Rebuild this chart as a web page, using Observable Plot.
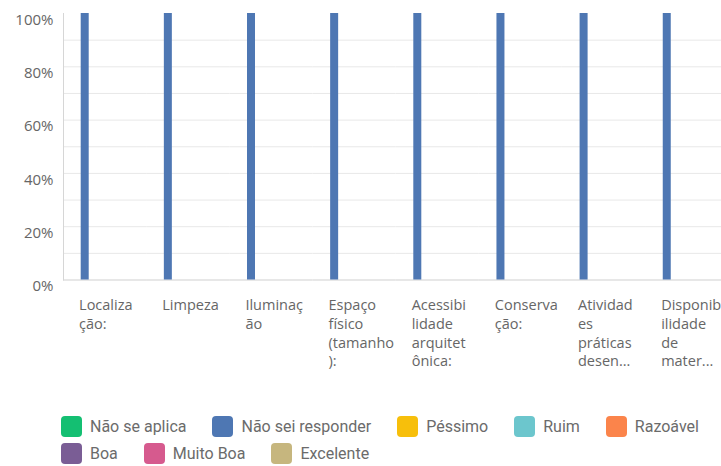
<!DOCTYPE html>
<html>
<head>
<meta charset="utf-8">
<script src="https://cdn.jsdelivr.net/npm/d3@7"></script>
<script src="https://cdn.jsdelivr.net/npm/@observablehq/plot@0.6"></script>
<style>
  html, body { margin: 0; padding: 0; background: #fff; overflow: hidden; width: 721px; height: 466px; }
  #chart svg { display: block; }
  .legend { padding: 11px 0 0 61px; font-family: Roboto, sans-serif; font-size: 16px; color: #6b6b6b; }
  .legend .row { display: flex; column-gap: 26px; height: 21px; margin-bottom: 6px; white-space: nowrap; }
  .legend .item { display: flex; align-items: center; height: 21px; }
  .legend .sw { width: 21px; height: 21px; border-radius: 4px; margin-right: 8px; flex: none; }
</style>
</head>
<body>
<div id="chart"></div>
<div class="legend" id="legend"></div>
<script>
const categories = ["Localização:", "Limpeza", "Iluminação", "Espaço físico (tamanho):", "Acessibilidade arquitetônica:", "Conservação:", "Atividades práticas desen...", "Disponibilidade de mater..."];
const tickLabels = ["Localiza\nção:", "Limpeza", "Iluminaç\não", "Espaço\nfísico\n(tamanho\n):", "Acessibi\nlidade\narquitet\nônica:", "Conserva\nção:", "Atividad\nes\npráticas\ndesen...", "Disponib\nilidade\nde\nmater..."];
const seriesNames = ["Não se aplica", "Não sei responder", "Péssimo", "Ruim", "Razoável", "Boa", "Muito Boa", "Excelente"];
const seriesColors = ["#14bf72", "#4e77b3", "#f7bf0b", "#6cc6cd", "#fb844b", "#7a5d95", "#d65a8e", "#c6b67e"];

// percentages per category, one array per series
const naoSeAplica     = [0, 0, 0, 0, 0, 0, 0, 0];
const naoSeiResponder = [100, 100, 100, 100, 100, 100, 100, 100];
const pessimo         = [0, 0, 0, 0, 0, 0, 0, 0];
const ruim            = [0, 0, 0, 0, 0, 0, 0, 0];
const razoavel        = [0, 0, 0, 0, 0, 0, 0, 0];
const boa             = [0, 0, 0, 0, 0, 0, 0, 0];
const muitoBoa        = [0, 0, 0, 0, 0, 0, 0, 0];
const excelente       = [0, 0, 0, 0, 0, 0, 0, 0];

const yTicks = [0, 20, 40, 60, 80, 100];
const gridTicks = [10, 20, 30, 40, 50, 60, 70, 80, 90];
const legendRows = [[0, 1, 2, 3, 4], [5, 6, 7]];

const seriesValues = [naoSeAplica, naoSeiResponder, pessimo, ruim, razoavel, boa, muitoBoa, excelente];
const table = [];
categories.forEach((c, i) => {
  seriesNames.forEach((s, j) => {
    table.push({category: c, series: s, value: seriesValues[j][i]});
  });
});

const chart = Plot.plot({
  width: 721,
  height: 405,
  marginLeft: 63,
  marginRight: -7.2,
  marginTop: 13,
  marginBottom: 125.5,
  style: {fontFamily: "'Open Sans', sans-serif", fontSize: "14px", color: "#666", background: "white", overflow: "hidden"},
  fx: {domain: categories, padding: 0, round: false, axis: null, label: null},
  x: {domain: seriesNames, paddingInner: 1/9, paddingOuter: 0.675, align: 0.716, round: false, axis: null},
  y: {domain: [0, 100], axis: null},
  color: {domain: seriesNames, range: seriesColors},
  marks: [
    Plot.gridY(gridTicks, {stroke: "#e8e8e8", strokeOpacity: 1}),
    Plot.ruleY([0], {stroke: "#cfcfcf"}),
    Plot.frame({anchor: "left", facetAnchor: "left", stroke: "#d6d6d6"}),
    Plot.barY(table, {fx: "category", x: "series", y: "value", fill: "series"}),
    Plot.axisY({ticks: yTicks, tickFormat: d => d + "%", tickSize: 0, tickPadding: 10, dy: 6.5, fontSize: 15, fill: "#666", label: null}),
    Plot.axisFx({anchor: "bottom", tickFormat: d => tickLabels[categories.indexOf(d)], tickSize: 0, tickPadding: 17, textAnchor: "start", dx: -26, lineHeight: 1.29, fontSize: 14.5, fill: "#666", label: null})
  ]
});
document.getElementById("chart").appendChild(chart);

const legend = document.getElementById("legend");
legendRows.forEach(rowIdx => {
  const row = document.createElement("div");
  row.className = "row";
  rowIdx.forEach(i => {
    const item = document.createElement("div");
    item.className = "item";
    const sw = document.createElement("div");
    sw.className = "sw";
    sw.style.background = seriesColors[i];
    const t = document.createElement("span");
    t.textContent = seriesNames[i];
    item.appendChild(sw);
    item.appendChild(t);
    row.appendChild(item);
  });
  legend.appendChild(row);
});
</script>
</body>
</html>
